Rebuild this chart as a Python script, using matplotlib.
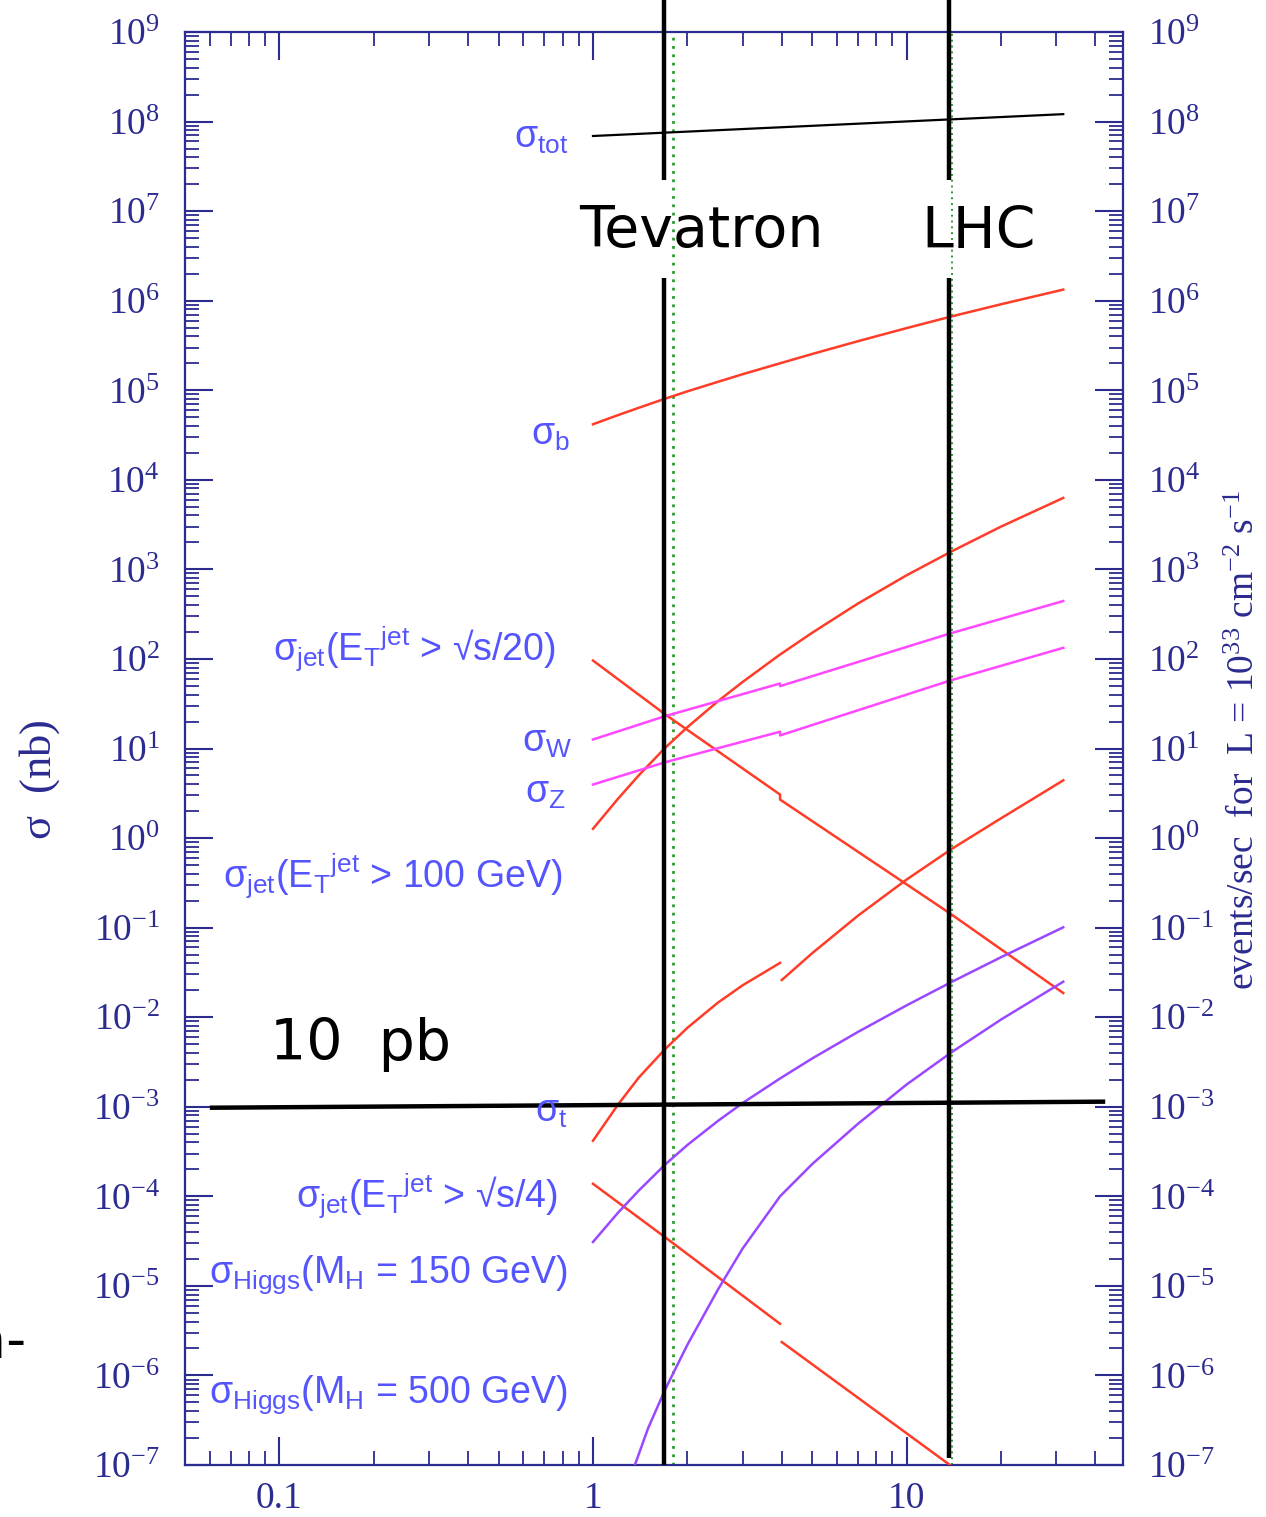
import numpy as np
import matplotlib
matplotlib.use('Agg')
import matplotlib.pyplot as plt
from matplotlib.ticker import FixedLocator, LogLocator, FuncFormatter, NullFormatter

plt.rcParams['mathtext.default'] = 'regular'
plt.rcParams['font.family'] = ['Liberation Serif', 'DejaVu Serif']

# ---------------- data (sqrt(s) in TeV, sigma in nb) ----------------
x_tot = [1.0, 31.6]
y_tot = [6.9e7, 1.21e8]

x_b = [1, 1.2, 1.4, 1.7, 2, 2.5, 3, 3.95, 5, 7, 10, 14, 20, 31.6]
y_b = [4.17e4, 5.27e4, 6.37e4, 8.06e4, 9.72e4, 1.24e5, 1.51e5, 2.00e5,
       2.54e5, 3.53e5, 4.94e5, 6.71e5, 9.12e5, 1.33e6]

x_jet100 = [1, 1.2, 1.4, 1.7, 2, 2.5, 3, 3.95, 5, 7, 10, 14, 20, 31.6]
y_jet100 = [1.27, 2.73, 5.02, 10.2, 17.3, 33.6, 55.3, 112, 196, 416, 859,
            1605, 3000, 6280]

x_jet20 = [1.0, 1.70, 3.95, 3.95, 13.8, 31.6]
y_jet20 = [96, 24, 3.06, 2.69, 0.143, 0.0186]

x_W = [1.0, 1.70, 3.95, 3.95, 13.8, 31.6]
y_W = [12.6, 23, 53.2, 49.7, 193, 443]

x_Z = [1.0, 1.70, 3.95, 3.95, 13.8, 31.6]
y_Z = [3.96, 7.03, 15.4, 14.0, 57.5, 133]

x_top_ppbar = [1, 1.2, 1.4, 1.7, 2, 2.5, 3, 3.95]
y_top_ppbar = [4.17e-4, 1.05e-3, 2.12e-3, 4.42e-3, 7.61e-3, 0.0145, 0.0227,
               0.0404]
x_top_pp = [4, 5, 7, 10, 14, 20, 31.6]
y_top_pp = [0.0260, 0.0518, 0.136, 0.344, 0.765, 1.66, 4.41]

x_jet4_ppbar = [1.0, 1.70, 3.95]
y_jet4_ppbar = [1.38e-4, 3.48e-5, 3.77e-6]
x_jet4_pp = [4.0, 15.0]
y_jet4_pp = [2.36e-6, 8e-8]

x_h150 = [1, 1.2, 1.4, 1.7, 2, 2.5, 3, 3.95, 5, 7, 10, 14, 20, 31.6]
y_h150 = [3.09e-5, 6.52e-5, 1.16e-4, 2.27e-4, 3.74e-4, 6.92e-4, 1.10e-3,
          2.07e-3, 3.46e-3, 6.85e-3, 0.01355, 0.0250, 0.0467, 0.1008]

x_h500 = [1.36, 1.5, 1.7, 2, 2.5, 3, 3.95, 5, 7, 10, 14, 20, 31.6]
y_h500 = [1.0e-7, 2.59e-7, 7.0e-7, 2.20e-6, 9.02e-6, 2.61e-5, 1.0e-4,
          2.29e-4, 6.46e-4, 1.77e-3, 4.12e-3, 9.40e-3, 0.0249]

x_10pb = [0.06, 43.0]
y_10pb = [9.75e-4, 1.14e-3]

tevatron_x = 1.69
lhc_x = 13.7
tevatron_green = 1.8
lhc_green = 14.0

xtick_vals = [0.1, 1, 10]
xtick_labels = ['0.1', '1', '10']
ytick_exps = list(range(-7, 10))

# ---------------- styling ----------------
W, H = 1266, 1517
NAVY = '#2b2b90'
RED = '#ff3c28'
MAG = '#ff48ff'
PUR = '#9a48ff'
LAB = '#5555ff'
GREEN = '#2f9a2f'

fig = plt.figure(figsize=(W / 100, H / 100), dpi=100)
ax = fig.add_axes([185 / W, 1 - 1465 / H, (1123 - 185) / W, (1465 - 32) / H])
ax.set_xscale('log')
ax.set_yscale('log')
ax.set_xlim(0.05, 49)
ax.set_ylim(1e-7, 1e9)

lw = 1.8
ax.plot(x_tot, y_tot, color='black', lw=1.6, zorder=3)
for xs, ys, c in [(x_b, y_b, RED), (x_jet100, y_jet100, RED),
                  (x_jet20, y_jet20, RED), (x_W, y_W, MAG), (x_Z, y_Z, MAG),
                  (x_top_ppbar, y_top_ppbar, RED), (x_top_pp, y_top_pp, RED),
                  (x_jet4_ppbar, y_jet4_ppbar, RED), (x_jet4_pp, y_jet4_pp, RED),
                  (x_h150, y_h150, PUR), (x_h500, y_h500, PUR)]:
    ax.plot(xs, ys, color=c, lw=lw, zorder=3, solid_joinstyle='round')

# green dotted energies
ax.axvline(tevatron_green, color=GREEN, ls=(0, (1, 2)), lw=2.0, zorder=2)
ax.axvline(lhc_green, color=GREEN, ls=(0, (1, 2)), lw=1.4, zorder=2)

# black Tevatron / LHC bars (extend above the frame, with a gap for the text)
xt = ax.get_xaxis_transform()
def fy(py):
    return (1465 - py) / (1465 - 32)
for xv, bot in [(tevatron_x, 1465), (lhc_x, 1458)]:
    ax.plot([xv, xv], [fy(0), fy(180)], color='black', lw=3.2, transform=xt,
            clip_on=False, zorder=4, solid_capstyle='butt')
    ax.plot([xv, xv], [fy(278), fy(bot)], color='black', lw=3.2, transform=xt,
            clip_on=False, zorder=4, solid_capstyle='butt')

# 10 pb line
ax.plot(x_10pb, y_10pb, color='black', lw=3.2, zorder=4, solid_capstyle='butt')

# ticks
ax.xaxis.set_major_locator(FixedLocator(xtick_vals))
ax.xaxis.set_major_formatter(FuncFormatter(
    lambda v, p: xtick_labels[xtick_vals.index(v)] if v in xtick_vals else ''))
ax.xaxis.set_minor_locator(LogLocator(base=10, subs=np.arange(2, 10), numticks=100))
ax.xaxis.set_minor_formatter(NullFormatter())
ax.yaxis.set_major_locator(FixedLocator([10.0 ** k for k in ytick_exps]))
ax.yaxis.set_major_formatter(FuncFormatter(
    lambda v, p: r'$10^{%d}$' % int(round(np.log10(v)))))
ax.yaxis.set_minor_locator(LogLocator(base=10, subs=np.arange(2, 10), numticks=100))
ax.yaxis.set_minor_formatter(NullFormatter())

ax.tick_params(which='major', direction='in', length=20, width=1.5, color=NAVY,
               top=True, right=True, labelright=True, labelsize=27,
               labelcolor=NAVY)
ax.tick_params(which='minor', direction='in', length=10, width=1.3, color=NAVY,
               top=True, right=True)
ax.tick_params(axis='y', which='major', pad=18)
ax.tick_params(axis='x', which='major', pad=12)
for s in ax.spines.values():
    s.set_color(NAVY)
    s.set_linewidth(1.6)

# axis titles
fig.text(40 / W, 1 - 780 / H, r'$\sigma$  (nb)', rotation=90, ha='center',
         va='center', fontsize=32, color=NAVY)
fig.text(1245 / W, 1 - 740 / H,
         r'events/sec  for  L = $10^{33}$ cm$^{-2}$ s$^{-1}$',
         rotation=90, ha='center', va='center', fontsize=27, color=NAVY)

# curve labels
sans = ['Liberation Sans', 'DejaVu Sans']
labels = [
    (r'$\sigma_{tot}$', 568, 148),
    (r'$\sigma_{b}$', 570, 445),
    (r'$\sigma_{jet}(E_{T}{}^{jet}$ > √s/20)', 556, 660),
    (r'$\sigma_{W}$', 572, 752),
    (r'$\sigma_{Z}$', 566, 803),
    (r'$\sigma_{jet}(E_{T}{}^{jet}$ > 100 GeV)', 562, 887),
    (r'$\sigma_{t}$', 568, 1122),
    (r'$\sigma_{jet}(E_{T}{}^{jet}$ > √s/4)', 558, 1207),
    (r'$\sigma_{Higgs}(M_{H}$ = 150 GeV)', 568, 1283),
    (r'$\sigma_{Higgs}(M_{H}$ = 500 GeV)', 568, 1403),
]
for txt, px, py in labels:
    fig.text(px / W, 1 - py / H, txt, ha='right', va='baseline', fontsize=27,
             color=LAB, family=sans)

# big black annotations
fig.text(701 / W, 1 - 232 / H, 'Tevatron', ha='center', va='center',
         fontsize=41, color='black', family='DejaVu Sans')
fig.text(979 / W, 1 - 232 / H, 'LHC', ha='center', va='center',
         fontsize=41, color='black', family='DejaVu Sans')
fig.text(360 / W, 1 - 1045 / H, '10  pb', ha='center', va='center',
         fontsize=41, color='black', family='DejaVu Sans')
fig.text(26 / W, 1 - 1343 / H, 'n-', ha='right', va='center',
         fontsize=40, color='black', family='DejaVu Sans')

fig.savefig('out.png', dpi=100)
